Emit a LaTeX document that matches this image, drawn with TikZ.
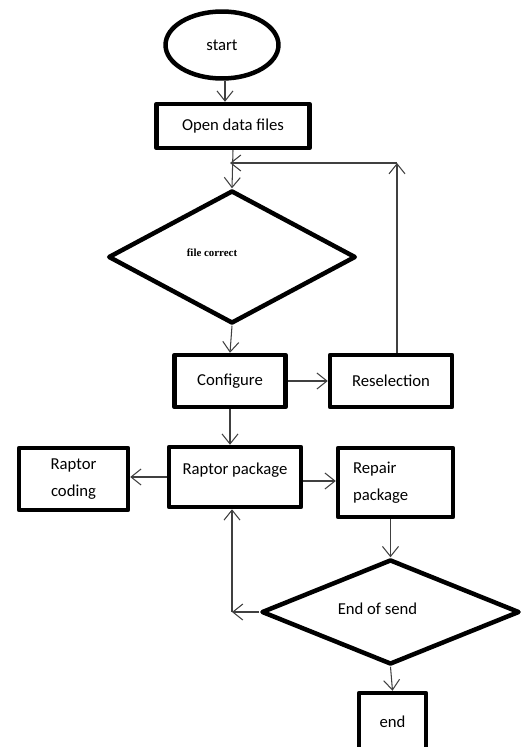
\documentclass[tikz,border=0pt]{standalone}
\usepackage{fontspec}
\setmainfont{Carlito}
\newfontfamily\smallserif{Liberation Serif}
\usetikzlibrary{shapes.geometric, arrows.meta}

\begin{document}
\begin{tikzpicture}[x=0.02cm, y=-0.02cm, >={Straight Barb[length=2mm, width=3.2mm]},
  box/.style = {draw, rectangle, line width=0.09cm, line join=round, font=\fontsize{9.5}{15.5}\selectfont},
  test/.style = {draw, diamond, line width=0.09cm, line join=round, inner sep=0pt, font=\fontsize{9.5}{15.5}\selectfont},
  link/.style = {->, line width=0.6pt, black!75}]
\useasboundingbox (0,0) rectangle (525,747);
\node[draw, ellipse, line width=0.09cm, minimum width=2.26cm, minimum height=1.34cm, font=\fontsize{9.5}{15.5}\selectfont] (start) at (222,45) {start};
\node[box, minimum width=3.06cm, minimum height=0.88cm] (open) at (233,126) {Open data files};
\node[test, minimum width=4.95cm, minimum height=2.66cm, label={[xshift=-0.4cm, yshift=0.08cm, font=\smallserif\bfseries\fontsize{6.2}{7}\selectfont]center:file correct}] (check) at (232,257) {};
\node[box, minimum width=2.22cm, minimum height=1.04cm] (config) at (230,381) {Configure};
\node[box, minimum width=2.44cm, minimum height=1.04cm] (resel) at (391,381) {Reselection};
\node[box, minimum width=2.18cm, minimum height=1.24cm, align=center] (coding) at (73.5,479) {Raptor\\coding};
\node[box, minimum width=2.64cm, minimum height=1.2cm, text height=7pt, text depth=10pt] (package) at (235,477) {Raptor package};
\node[box, minimum height=1.38cm, inner xsep=0.3cm, text width=1.7cm, align=left] (repair) at (395.5,482.5) {Repair\\package};
\node[test, minimum width=5.16cm, minimum height=2.1cm, label={[xshift=-0.26cm, yshift=0.06cm, font=\fontsize{9.5}{11}\selectfont]center:End of send}] (finish) at (390.5,612) {};
\node[box, minimum width=1.34cm, minimum height=1.16cm] (stop) at (392.5,722) {end};
\coordinate (up1) at (397,163);
\coordinate (back1) at (230,163);
\coordinate (back2) at (232,612);
\draw[link] (start.south -| 225,0) -- (225,0 |- open.north);
\draw[link] (open.south) -- (check.north);
\draw[link] (check.south) -- (config.north);
\draw[link] (config.east) -- (resel.west);
\draw[link] (config.south) -- (config.south |- package.north);
\draw[link] (up1 |- resel.north) -- (up1);
\draw[link] (up1) -- (back1);
\draw[link] (package.west) -- (package.west -| coding.east);
\draw[link] (package.east |- 0,481) -- (repair.west |- 0,481);
\draw[link] (finish.north |- repair.south) -- (finish.north);
\draw[link] (finish.south) -- (stop.north);
\draw[link] (finish.west) -- (back2);
\draw[link] (back2) -- (back2 |- package.south);
\end{tikzpicture}
\end{document}
